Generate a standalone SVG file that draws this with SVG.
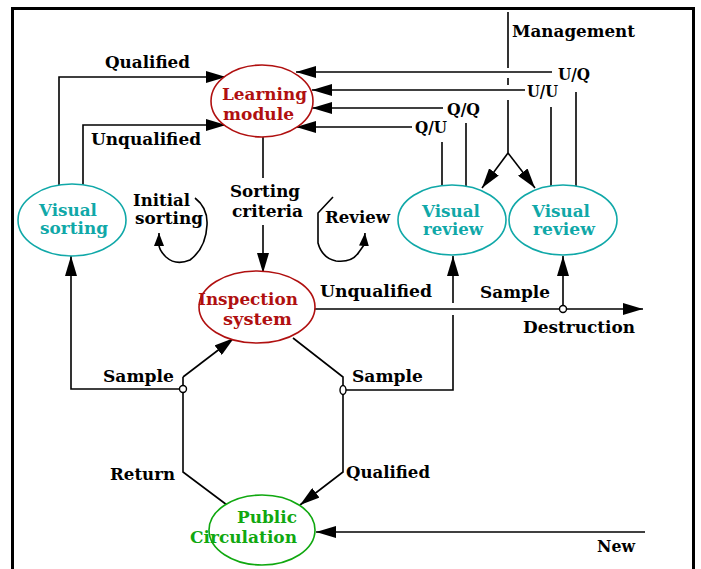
<svg xmlns="http://www.w3.org/2000/svg" width="701" height="569" viewBox="0 0 701 569">
<style>
  .t { font-family: "DejaVu Serif", "Liberation Serif", serif; font-weight: bold; font-size: 17px; fill: #000; }
  .red { fill: #b01010; }
  .teal { fill: #10a8a8; }
  .green { fill: #10a810; }
  .c { fill: none; stroke: #000; stroke-width: 1.6; }
  .node-red { fill: #fff; stroke: #b01010; stroke-width: 1.6; }
  .node-teal { fill: #fff; stroke: #10a8a8; stroke-width: 1.6; }
  .node-green { fill: #fff; stroke: #10a810; stroke-width: 1.6; }
  .dot { fill: #fff; stroke: #000; stroke-width: 1.4; }
</style>
<defs>
  <marker id="ah" markerWidth="20" markerHeight="12" refX="20" refY="6" orient="auto" markerUnits="userSpaceOnUse">
    <path d="M0,0 L20,6 L0,12 z" fill="#000"/>
  </marker>
  <marker id="ahs" markerWidth="13" markerHeight="10" refX="13" refY="5" orient="auto" markerUnits="userSpaceOnUse">
    <path d="M0,0 L13,5 L0,10 z" fill="#000"/>
  </marker>
</defs>
<rect x="0" y="0" width="701" height="569" fill="#fff"/>
<rect x="12.5" y="8.5" width="681" height="620" fill="none" stroke="#000" stroke-width="3"/>

<g id="connectors">
  <path class="c" d="M59,185 V77 H226" marker-end="url(#ah)"/>
  <path class="c" d="M83,185 V125 H226" marker-end="url(#ah)"/>
  <path class="c" d="M576,187 V92"/>
  <path class="c" d="M552,72 H296" marker-end="url(#ah)"/>
  <path class="c" d="M551,186 V107"/>
  <path class="c" d="M525,90 H312" marker-end="url(#ah)"/>
  <path class="c" d="M466,186 V123"/>
  <path class="c" d="M443,108 H312" marker-end="url(#ah)"/>
  <path class="c" d="M442,185 V142"/>
  <path class="c" d="M412,127 H296" marker-end="url(#ah)"/>
  <path class="c" d="M508,12 V68 M508,78 V85 M508,100 V153"/>
  <path class="c" d="M508,153 L482,188" marker-end="url(#ah)"/>
  <path class="c" d="M508,153 L535,188" marker-end="url(#ah)"/>
  <path class="c" d="M263,137 V178"/>
  <path class="c" d="M263,225 V273" marker-end="url(#ah)"/>
  <path class="c" d="M315,309 H643" marker-end="url(#ah)"/>
  <path class="c" d="M180,389 H71 V256" marker-end="url(#ah)"/>
  <path class="c" d="M183,377 L234,338" marker-end="url(#ah)"/>
  <path class="c" d="M183,377 V472 L227,505"/>
  <path class="c" d="M293,338 L343,377 V472 L300,505" marker-end="url(#ah)"/>
  <path class="c" d="M346,390 H453 V315"/>
  <path class="c" d="M453,303 V256" marker-end="url(#ah)"/>
  <path class="c" d="M563,306 V256" marker-end="url(#ah)"/>
  <path class="c" d="M645,532 H316" marker-end="url(#ah)"/>
  <path class="c" d="M195,198 Q208,208 207,225 Q206,248 190,260 Q176,266 166,257 Q159,250 159,245 L159,233" marker-end="url(#ahs)"/>
  <path class="c" d="M333,197 L318,213 L318,243 Q322,258 336,261 Q352,263 359,252 L364,245 L365,233" marker-end="url(#ahs)"/>
  <circle class="dot" cx="183" cy="389" r="3.5"/>
  <ellipse class="dot" cx="343" cy="390" rx="3" ry="4.5"/>
  <circle class="dot" cx="563" cy="309" r="3.5"/>
</g>

<g id="labels">
  <text class="t" x="105" y="68" textLength="85" lengthAdjust="spacingAndGlyphs">Qualified</text>
  <text class="t" x="91" y="145" textLength="110" lengthAdjust="spacingAndGlyphs">Unqualified</text>
  <text class="t" x="512" y="37" textLength="123" lengthAdjust="spacingAndGlyphs">Management</text>
  <text class="t" x="558" y="80" textLength="32" lengthAdjust="spacingAndGlyphs">U/Q</text>
  <text class="t" x="527" y="97" textLength="31" lengthAdjust="spacingAndGlyphs">U/U</text>
  <text class="t" x="447" y="115" textLength="33" lengthAdjust="spacingAndGlyphs">Q/Q</text>
  <text class="t" x="415" y="133" textLength="32" lengthAdjust="spacingAndGlyphs">Q/U</text>
  <text class="t" x="133" y="206" textLength="57" lengthAdjust="spacingAndGlyphs">Initial</text>
  <text class="t" x="135" y="224" textLength="68" lengthAdjust="spacingAndGlyphs">sorting</text>
  <text class="t" x="230" y="197" textLength="70" lengthAdjust="spacingAndGlyphs">Sorting</text>
  <text class="t" x="232" y="217" textLength="71" lengthAdjust="spacingAndGlyphs">criteria</text>
  <text class="t" x="325" y="223" textLength="65" lengthAdjust="spacingAndGlyphs">Review</text>
  <text class="t" x="320" y="297" textLength="112" lengthAdjust="spacingAndGlyphs">Unqualified</text>
  <text class="t" x="480" y="298" textLength="70" lengthAdjust="spacingAndGlyphs">Sample</text>
  <text class="t" x="523" y="333" textLength="112" lengthAdjust="spacingAndGlyphs">Destruction</text>
  <text class="t" x="103" y="382" textLength="71" lengthAdjust="spacingAndGlyphs">Sample</text>
  <text class="t" x="352" y="382" textLength="71" lengthAdjust="spacingAndGlyphs">Sample</text>
  <text class="t" x="110" y="480" textLength="65" lengthAdjust="spacingAndGlyphs">Return</text>
  <text class="t" x="346" y="478" textLength="84" lengthAdjust="spacingAndGlyphs">Qualified</text>
  <text class="t" x="597" y="552" textLength="38" lengthAdjust="spacingAndGlyphs">New</text>
</g>

<g id="learning-module">
  <ellipse class="node-red" cx="262" cy="101" rx="51" ry="36"/>
  <text class="t red" x="222" y="100" textLength="85" lengthAdjust="spacingAndGlyphs">Learning</text>
  <text class="t red" x="223" y="120" textLength="71" lengthAdjust="spacingAndGlyphs">module</text>
</g>
<g id="visual-sorting">
  <ellipse class="node-teal" cx="72" cy="220" rx="54" ry="36"/>
  <text class="t teal" x="39" y="216" textLength="58" lengthAdjust="spacingAndGlyphs">Visual</text>
  <text class="t teal" x="40" y="234" textLength="68" lengthAdjust="spacingAndGlyphs">sorting</text>
</g>
<g id="inspection-system">
  <ellipse class="node-red" cx="257" cy="307" rx="58" ry="36"/>
  <text class="t red" x="198" y="305" textLength="100" lengthAdjust="spacingAndGlyphs">Inspection</text>
  <text class="t red" x="223" y="325" textLength="69" lengthAdjust="spacingAndGlyphs">system</text>
</g>
<g id="visual-review-1">
  <ellipse class="node-teal" cx="452" cy="220" rx="54" ry="35"/>
  <text class="t teal" x="422" y="217" textLength="58" lengthAdjust="spacingAndGlyphs">Visual</text>
  <text class="t teal" x="423" y="235" textLength="60" lengthAdjust="spacingAndGlyphs">review</text>
</g>
<g id="visual-review-2">
  <ellipse class="node-teal" cx="563" cy="220" rx="54" ry="35"/>
  <text class="t teal" x="532" y="217" textLength="58" lengthAdjust="spacingAndGlyphs">Visual</text>
  <text class="t teal" x="533" y="235" textLength="62" lengthAdjust="spacingAndGlyphs">review</text>
</g>
<g id="public-circulation">
  <ellipse class="node-green" cx="262" cy="530" rx="53" ry="35"/>
  <text class="t green" x="237" y="523" textLength="60" lengthAdjust="spacingAndGlyphs">Public</text>
  <text class="t green" x="190" y="543" textLength="107" lengthAdjust="spacingAndGlyphs">Circulation</text>
</g>
</svg>
